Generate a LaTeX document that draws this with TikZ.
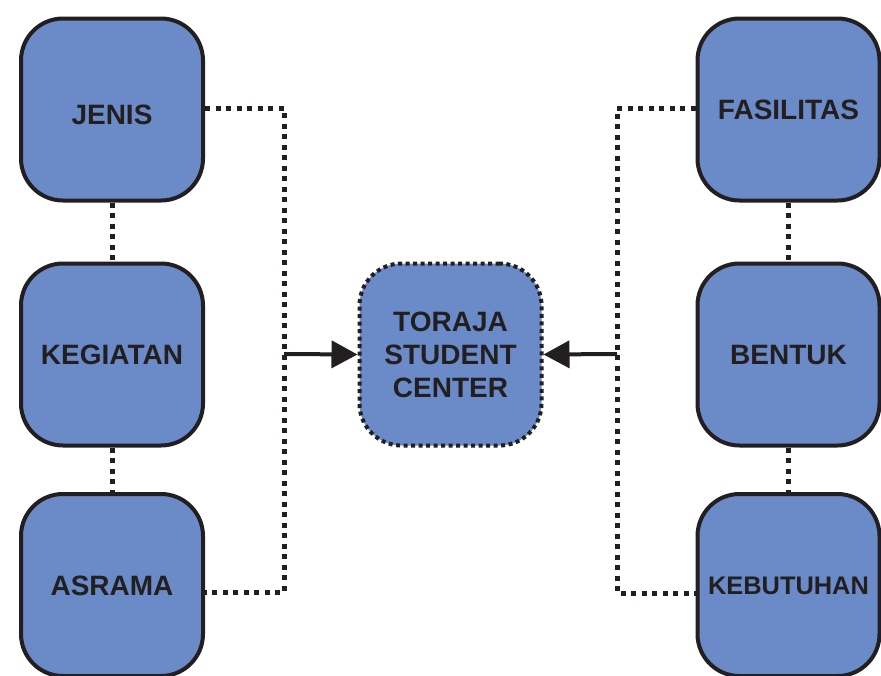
\documentclass[tikz,border=0pt]{standalone}
\usepackage{fontspec}
\setmainfont{Liberation Sans}
\usetikzlibrary{arrows.meta}
\definecolor{boxfill}{HTML}{6A8BC7}
\definecolor{ink}{HTML}{231F20}
\tikzset{
  box/.style={draw=ink, fill=boxfill, line width=4pt, rounded corners=42pt,
    minimum width=182pt, minimum height=182pt, inner sep=0pt,
    text=ink, font=\bfseries\fontsize{28}{33}\selectfont, text height=20pt, text depth=0pt},
  centerbox/.style={draw=ink, fill=boxfill, line width=4pt, rounded corners=42pt,
    dash pattern=on 4pt off 3.5pt,
    minimum width=182pt, minimum height=182pt, inner sep=0pt, align=center,
    text=ink, font=\bfseries\fontsize{28}{33}\selectfont},
  dotline/.style={draw=ink, line width=5pt, dash pattern=on 5pt off 5.5pt},
  arr/.style={draw=ink, line width=4pt, -{Triangle[length=26pt,width=27pt]}}
}
\begin{document}
\begin{tikzpicture}[x=1pt,y=-1pt]
\clip (0,0) rectangle (881,675);
\fill[white] (0,0) rectangle (881,675);
% left column
\node[box, text height=30pt] (jenis) at (112,109.5) {JENIS};
\node[box] (kegiatan) at (112,354.5) {KEGIATAN};
\node[box] (asrama) at (112,585) {ASRAMA};
% right column
\node[box] (fasilitas) at (788.5,109.5) {FASILITAS};
\node[box, font=\bfseries\fontsize{25.4}{30}\selectfont, text height=18pt] (kebutuhan) at (788.5,585) {KEBUTUHAN};
\node[box] (bentuk) at (788.5,354.5) {BENTUK};
% center
\node[centerbox] (center) at (450.5,354.5) {TORAJA\\STUDENT\\CENTER};
% left connectors
\coordinate (lt) at (284,108);
\coordinate (lb) at (284,592);
\coordinate (la) at (284,354);
\draw[dotline] (jenis.south) -- (kegiatan.north);
\draw[dotline] (kegiatan.south) -- (asrama.north);
\draw[dotline] (jenis.east |- lt) -- (lt) -- (lb) -- (asrama.east |- lb);
\draw[arr] (la) -- (center.west);
% right connectors
\coordinate (rt) at (617,108);
\coordinate (rb) at (617,593);
\coordinate (ra) at (617,354);
\draw[dotline] (fasilitas.south) -- (bentuk.north);
\draw[dotline] (bentuk.south) -- (kebutuhan.north);
\draw[dotline] (fasilitas.west |- rt) -- (rt) -- (rb) -- (kebutuhan.west |- rb);
\draw[arr] (ra) -- (center.east);
\end{tikzpicture}
\end{document}
